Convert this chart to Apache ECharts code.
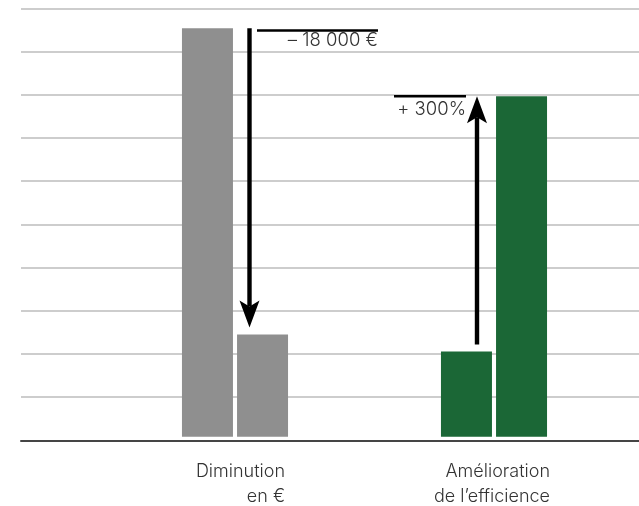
<!DOCTYPE html>
<html>
<head>
<meta charset="utf-8">
<style>
  html, body { margin: 0; padding: 0; background: #ffffff; }
  #chart { width: 639px; height: 506px; }
</style>
<script src="https://cdn.jsdelivr.net/npm/echarts@6/dist/echarts.min.js"></script>
</head>
<body>
<div id="chart"></div>
<script>
// Two comparisons: operating cost (euros) and efficiency, before and after.
const categories = ['Diminution\nen €', 'Amélioration\nde l’efficience'];
const before = [9.6, 2];     // bar heights, chart units
const after = [2.4, 8];
const euroPerUnit = 2500;    // cost scale: one unit = 2 500 €
const barColors = ['#8f8f8f', '#1b6736'];
const gridTicks = [0, 10, 1]; // background rules: min, max, step

const FONT = 'Inter, "Liberation Sans", sans-serif';
const TEXT_COLOR = '#333333';

function groupThousands(n) {
  return String(Math.round(n)).replace(/\B(?=(\d{3})+(?!\d))/g, ' ');
}
const changeLabels = [
  '– ' + groupThousands((before[0] - after[0]) * euroPerUnit) + ' €',
  '+ ' + Math.round((after[1] / before[1] - 1) * 100) + '%'
];

const chart = echarts.init(document.getElementById('chart'), null, { renderer: 'canvas' });

function arrowItem(params, api) {
  const cat = api.value(0);
  const v0 = api.value(1);
  const v1 = api.value(2);
  const p0 = api.coord([cat, v0]);
  const p1 = api.coord([cat, v1]);
  const cx = p0[0];
  const down = v1 < v0;
  const dir = down ? 1 : -1;
  const HEAD_L = 27, HEAD_W = 10, NOTCH = 6, GAP = 7;
  let x, yStart, yTip, lineY, lineX0, lineX1, textY;
  if (down) {
    x = cx + 14.5;
    yStart = p0[1];
    yTip = p1[1] - GAP;
    lineY = p0[1] + 2.3;
    lineX0 = x + 7.5;
    lineX1 = x + 128.5;
    textY = lineY + 9.5;
  } else {
    x = cx - 17;
    yStart = p0[1] - GAP;
    yTip = p1[1];
    lineY = p1[1];
    lineX0 = x - 83;
    lineX1 = x - 11;
    textY = lineY + 12.8;
  }
  const headBase = yTip - dir * HEAD_L;
  return {
    type: 'group',
    children: [
      {
        type: 'line',
        shape: { x1: x, y1: yStart, x2: x, y2: headBase + dir * NOTCH },
        style: { stroke: '#000', lineWidth: 4.4, lineCap: 'butt' }
      },
      {
        type: 'polygon',
        shape: { points: [[x, yTip], [x - HEAD_W, headBase], [x, headBase + dir * NOTCH], [x + HEAD_W, headBase]] },
        style: { fill: '#000' }
      },
      {
        type: 'line',
        shape: { x1: lineX0, y1: lineY, x2: lineX1, y2: lineY },
        style: { stroke: '#000', lineWidth: 2.4 }
      },
      {
        type: 'text',
        style: {
          x: lineX1, y: textY,
          text: changeLabels[cat],
          fill: TEXT_COLOR,
          fontFamily: FONT, fontSize: 18.5, fontWeight: 300,
          align: 'right', verticalAlign: 'middle'
        }
      }
    ]
  };
}

const labelWidths = [100, 112];
const labelStyle = { align: 'right', fontFamily: FONT, fontSize: 18, fontWeight: 300, color: TEXT_COLOR, lineHeight: 25 };

chart.setOption({
  animation: false,
  backgroundColor: '#ffffff',
  grid: [
    { left: 21, right: 0, top: 8.3, height: 432 },
    { left: 105.5, width: 518, top: 8.3, height: 432 }
  ],
  xAxis: [
    {
      gridIndex: 0, type: 'value', min: 0, max: 1,
      axisLine: { show: true, lineStyle: { color: '#454545', width: 2 } },
      axisTick: { show: false }, axisLabel: { show: false }, splitLine: { show: false }
    },
    {
      gridIndex: 1, type: 'category', data: categories,
      axisLine: { show: false }, axisTick: { show: false }, splitLine: { show: false },
      axisLabel: {
        margin: 19,
        formatter: function (value, index) {
          const key = 'c' + index;
          return value.split('\n').map(s => '{' + key + '|' + s + '}').join('\n');
        },
        rich: {
          c0: Object.assign({ width: labelWidths[0] }, labelStyle),
          c1: Object.assign({ width: labelWidths[1] }, labelStyle)
        }
      }
    }
  ],
  yAxis: [
    {
      gridIndex: 0, type: 'value', min: gridTicks[0], max: gridTicks[1], interval: gridTicks[2],
      axisLine: { show: false }, axisTick: { show: false }, axisLabel: { show: false },
      splitLine: { show: true, lineStyle: { color: '#bdbdbd', width: 1.6 } }
    },
    {
      gridIndex: 1, type: 'value', min: -0.085, max: 10.068, show: false,
      splitLine: { show: false }
    }
  ],
  series: [
    {
      name: 'Avant', type: 'bar', xAxisIndex: 1, yAxisIndex: 1,
      barWidth: 51, barGap: '8%',
      data: before.map((v, i) => ({ value: v, itemStyle: { color: barColors[i] } }))
    },
    {
      name: 'Après', type: 'bar', xAxisIndex: 1, yAxisIndex: 1,
      barWidth: 51, barGap: '8%',
      data: after.map((v, i) => ({ value: v, itemStyle: { color: barColors[i] } }))
    },
    {
      name: 'Variation', type: 'custom', xAxisIndex: 1, yAxisIndex: 1,
      clip: false, z: 5,
      renderItem: arrowItem,
      data: categories.map((c, i) => [i, before[i], after[i]])
    }
  ]
});
</script>
</body>
</html>
